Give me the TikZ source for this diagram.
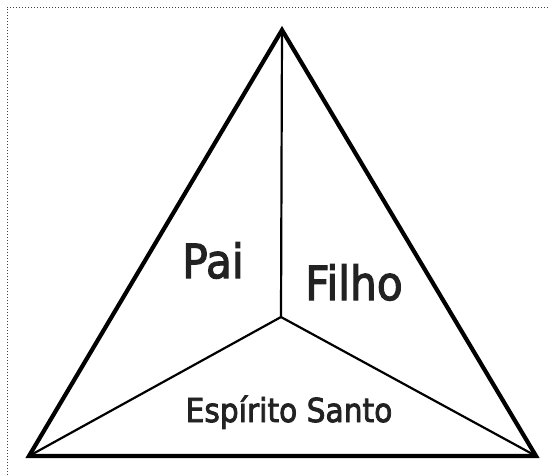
\documentclass[tikz,border=0pt]{standalone}
\usepackage{fontspec}
\setmainfont{DejaVu Sans}[BoldFont={DejaVu Sans},BoldFeatures={FakeBold=2.6}]
\definecolor{txt}{HTML}{222222}
\begin{document}
\begin{tikzpicture}[x=1pt,y=-1pt,
  outer/.style={line width=4.2pt,line join=miter},
  inner/.style={line width=2.2pt},
  lbl/.style={inner sep=0pt,anchor=base,text=txt,xscale=0.9},
  frame/.style={draw=black!75,line width=1pt,dash pattern=on 1pt off 2pt}]
\useasboundingbox (0,0) rectangle (548,475);
\draw[frame] (548,7) -- (7,7) -- (7,475);
\coordinate (A) at (282,30);
\coordinate (L) at (29,456);
\coordinate (R) at (536,456);
\coordinate (C) at (281,317);
\draw[inner] (A) -- (C);
\draw[inner] (L) -- (C) -- (R);
\draw[outer] (A) -- (L) -- (R) -- cycle;
\node[lbl,font=\fontsize{47}{47}\selectfont\bfseries] (pai) at (213,278) {Pai};
\node[lbl,font=\fontsize{47}{47}\selectfont\bfseries] (filho) at (354,300) {Filho};
\node[lbl,font=\fontsize{33}{33}\selectfont\bfseries] (es) at (289,422) {Espírito Santo};
\end{tikzpicture}
\end{document}
